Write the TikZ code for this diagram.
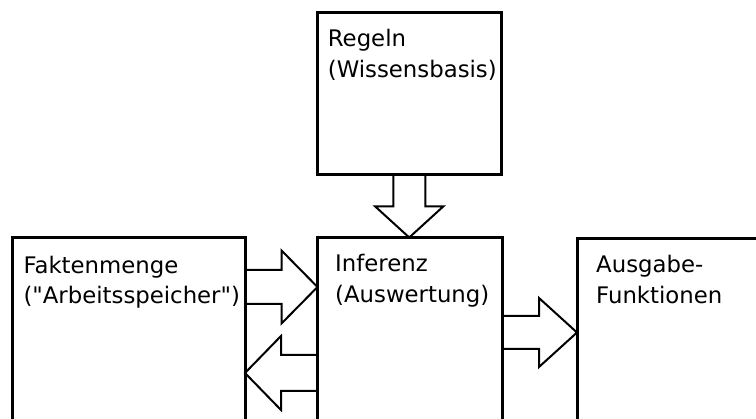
\documentclass[tikz,border=0pt]{standalone}
\usepackage{fontspec}
\setmainfont{DejaVu Sans}
\usetikzlibrary{calc}

% Hollow block arrow from #1 to tip #2:
% #3 shaft half-width, #4 head half-width, #5 head length
\newcommand\blockarrow[5]{%
  \coordinate (ba-h) at ($(#2)!#5!(#1)$);
  \draw[hollowarrow]
    ($(#1)!#3!90:(#2)$) -- ($(ba-h)!#3!90:(#2)$) -- ($(ba-h)!#4!90:(#2)$)
    -- (#2)
    -- ($(ba-h)!#4!-90:(#2)$) -- ($(ba-h)!#3!-90:(#2)$) -- ($(#1)!#3!-90:(#2)$);
}

\begin{document}
\begin{tikzpicture}[x=1pt,y=-1pt,
  box/.style={draw, line width=3pt, rectangle, inner sep=0pt, outer sep=0pt,
    anchor=north west},
  % anchored on the baseline of the second (last) line
  boxtext/.style={anchor=base west, align=left, inner sep=0pt,
    font=\fontsize{22.8}{30.5}\selectfont},
  hollowarrow/.style={draw, line width=2pt, line join=miter}]
  \clip (0,0) rectangle (756,419);

  % component boxes (the lower three run past the bottom edge)
  \node[box, minimum width=184.5pt, minimum height=162pt] (rules) at (317,12.5) {};
  \node[box, minimum width=232.5pt, minimum height=220pt] (facts) at (12.5,238) {};
  \node[box, minimum width=184.5pt, minimum height=220pt] (infer) at (317.5,237.5) {};
  \node[box, minimum width=193pt,   minimum height=220pt] (output) at (577,238.5) {};

  % box labels
  \node[boxtext] (rulestext) at ($(rules.north west)+(10.7,64.7)$) {Regeln\\(Wissensbasis)};
  \node[boxtext] (factstext) at ($(facts.north west)+(10.8,65.8)$) {Faktenmenge\\(\textquotedbl Arbeitsspeicher\textquotedbl)};
  \node[boxtext] (infertext) at ($(infer.north west)+(17.5,64.7)$) {Inferenz\\(Auswertung)};
  \node[boxtext] (outputtext) at ($(output.north west)+(19,65)$) {Ausgabe-\\Funktionen};

  % connector end points on the box edges
  \coordinate (r-out) at (rules.south);
  \coordinate (i-in)  at (rules.south |- infer.north);
  \coordinate (f-out) at ($(facts.north east)+(0,49)$);
  \coordinate (i-in2) at (f-out -| infer.west);
  \coordinate (i-back) at ($(infer.north west)+(0,135.5)$);
  \coordinate (f-in)  at (i-back -| facts.east);
  \coordinate (i-out) at ($(infer.north east)+(0,95)$);
  \coordinate (o-in)  at (i-out -| output.west);

  % block arrows
  \blockarrow{r-out}{i-in}{16pt}{34pt}{31pt}
  \blockarrow{f-out}{i-in2}{17pt}{36.5pt}{36pt}
  \blockarrow{i-back}{f-in}{18pt}{37pt}{36pt}
  \blockarrow{i-out}{o-in}{16.5pt}{34.5pt}{38pt}
\end{tikzpicture}
\end{document}
